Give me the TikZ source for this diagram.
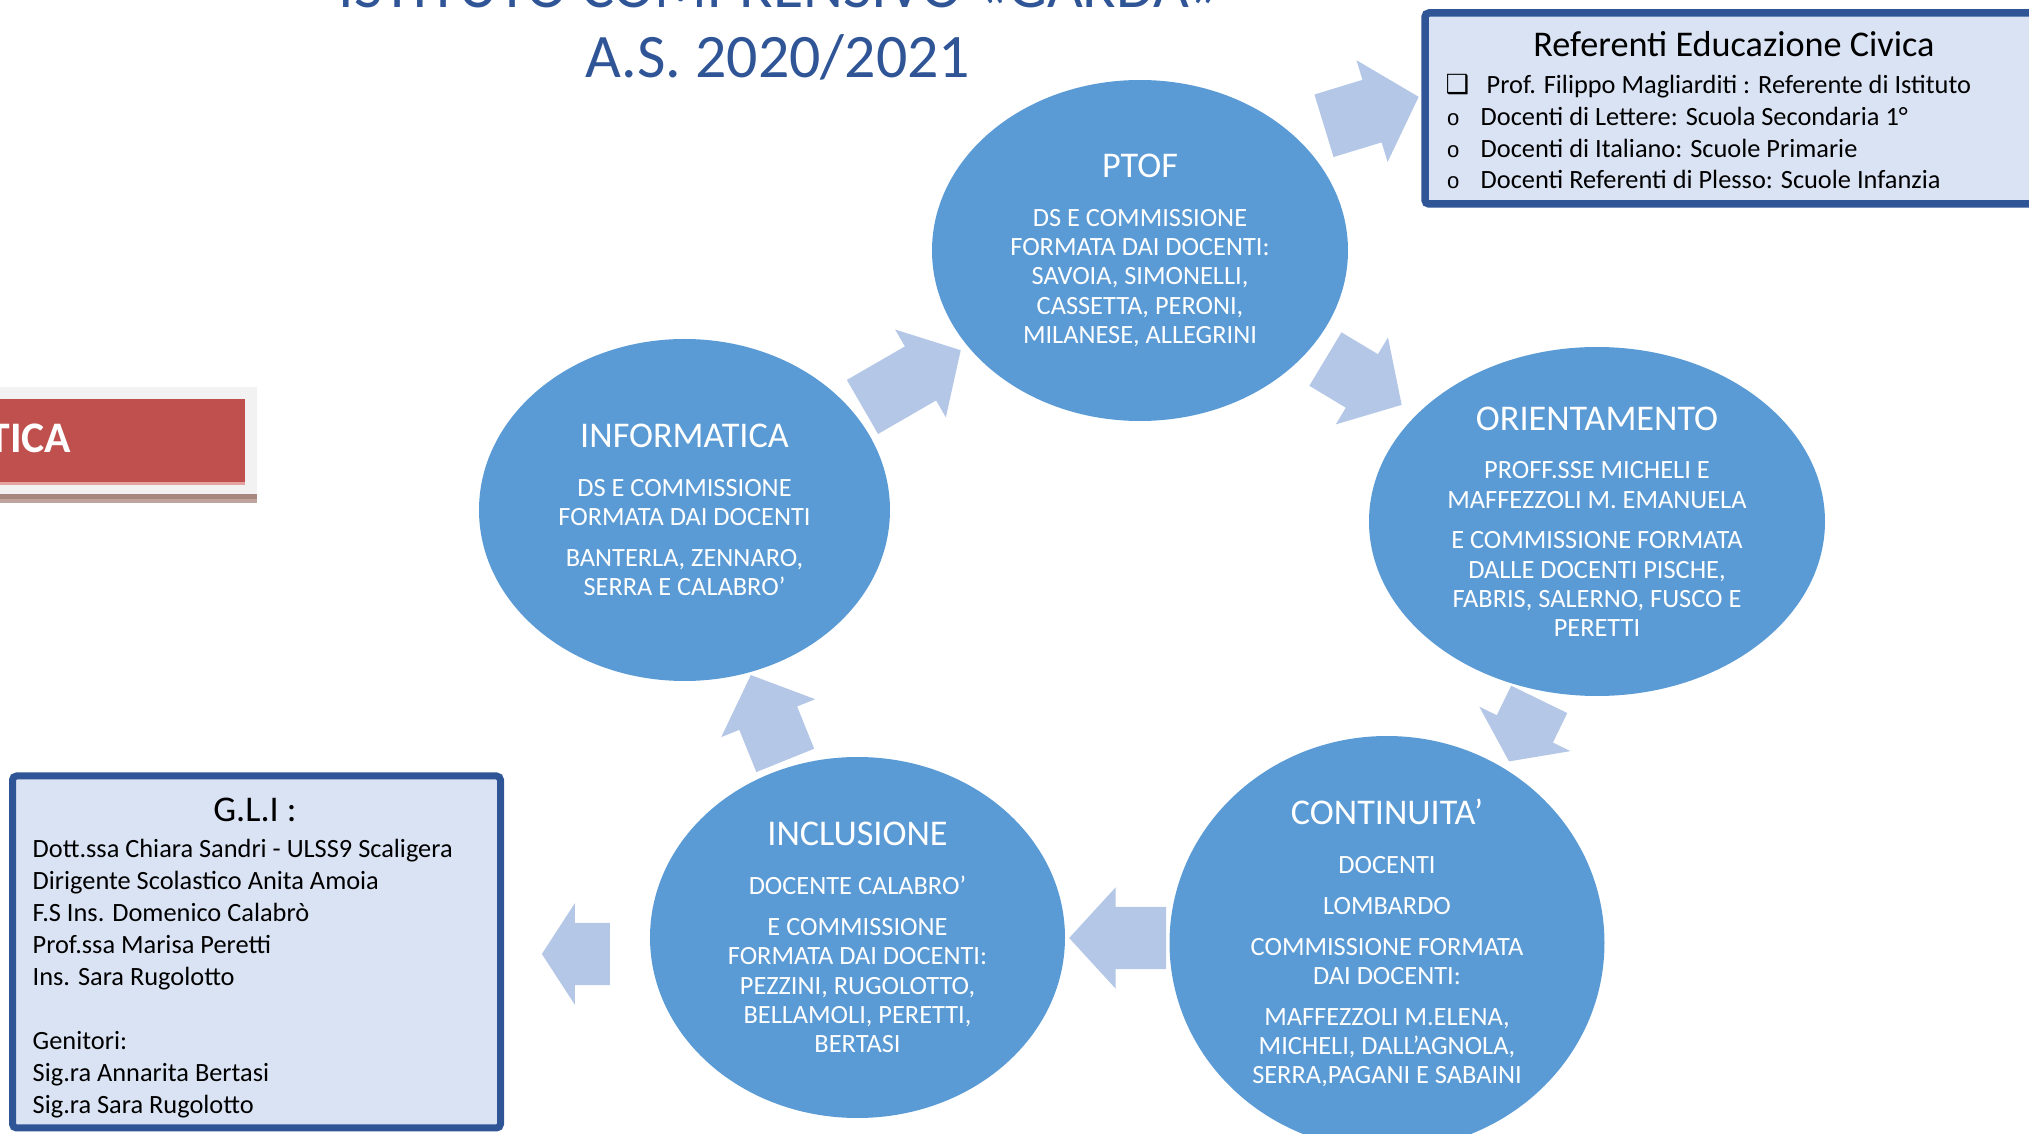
\documentclass[tikz,border=0pt]{standalone}
\usepackage{fontspec}
\setmainfont{Carlito}
\newfontfamily\symfont{DejaVu Sans}
\newfontfamily\bulletfont{Liberation Mono}
\usetikzlibrary{shapes.geometric,shapes.arrows,positioning}
\definecolor{phaseblue}{HTML}{5B9BD5}
\definecolor{arrowblue}{HTML}{B4C7E7}
\definecolor{boxfill}{HTML}{DAE3F3}
\definecolor{boxline}{HTML}{2F5597}
\definecolor{tabred}{HTML}{C0504D}
\definecolor{tabpink}{HTML}{E2A3A1}
\definecolor{panelgray}{HTML}{F2F2F2}
\definecolor{shadowa}{HTML}{A8877F}
\definecolor{shadowb}{HTML}{BFA39D}
\newcommand{\phasename}[1]{{\fontsize{10.3}{12}\selectfont #1}}
\newcommand{\ringmark}{\makebox[3.5mm][l]{\hspace{0.1mm}\bulletfont\fontsize{6.3}{7}\selectfont o}}
\tikzset{
    phase/.style={
        ellipse,
        fill=phaseblue,
        text=white,
        align=center,
        inner sep=0pt,
        font=\fontsize{7.5}{8.3}\selectfont,
    },
    flow/.style={
        single arrow,
        fill=arrowblue,
        inner xsep=0pt,
        inner ysep=3.05mm,
        single arrow head extend=1.95mm,
        single arrow tip angle=95,
    },
    infobox/.style={
        rectangle,
        draw=boxline,
        fill=boxfill,
        line width=0.75mm,
        rounded corners=0.4mm,
    },
    heading/.style={
        text=boxline,
        inner sep=0pt,
        font=\fontsize{17.6}{20}\selectfont,
    },
    boxtitle/.style={
        inner sep=0pt,
        font=\fontsize{10.3}{12}\selectfont,
    },
    boxtext/.style={
        inner sep=0pt,
        align=left,
        font=\fontsize{7.5}{9.1}\selectfont,
    },
}
\begin{document}
\begin{tikzpicture}[x=0.1mm,y=-0.1mm]
    \useasboundingbox (0,0) rectangle (2029,1134);

    \node [heading, anchor=base] (school) at (780,8) {ISTITUTO COMPRENSIVO «GARDA»};
    \node [heading, anchor=base] (year) at (778,78) {A.S. 2020/2021};

    \fill [panelgray] (0,387) rectangle (257,494);
    \fill [tabred] (0,399) rectangle (245,482);
    \fill [tabpink] (0,482) rectangle (245,485);
    \fill [shadowa] (0,494) rectangle (257,499);
    \fill [shadowb] (0,499) rectangle (257,503);
    \node [anchor=base east, inner sep=0pt, text=white, font=\fontsize{12.4}{14}\selectfont\bfseries] (tab) at (72,453) {TICA};

    \node [phase, minimum width=41.6mm, minimum height=34.1mm] (ptof) at (1140,250.5)
        {\phasename{PTOF}\\[5.6pt]DS E COMMISSIONE\\FORMATA DAI DOCENTI:\\SAVOIA, SIMONELLI,\\CASSETTA, PERONI,\\MILANESE, ALLEGRINI};
    \node [phase, minimum width=41.1mm, minimum height=34.2mm] (info) at (684.5,510)
        {\phasename{INFORMATICA}\\[5.6pt]DS E COMMISSIONE\\FORMATA DAI DOCENTI\\[3.35pt]BANTERLA, ZENNARO,\\SERRA E CALABRO’};
    \node [phase, minimum width=45.6mm, minimum height=34.9mm] (orient) at (1597,521.5)
        {\phasename{ORIENTAMENTO}\\[5.6pt]PROFF.SSE MICHELI E\\MAFFEZZOLI M. EMANUELA\\[3.35pt]E COMMISSIONE FORMATA\\DALLE DOCENTI PISCHE,\\FABRIS, SALERNO, FUSCO E\\PERETTI};
    \node [phase, minimum width=43.5mm, minimum height=41.4mm] (cont) at (1387,943)
        {\phasename{CONTINUITA’}\\[5.6pt]DOCENTI\\[3.35pt]LOMBARDO\\[3.35pt]COMMISSIONE FORMATA\\DAI DOCENTI:\\[3.35pt]MAFFEZZOLI M.ELENA,\\MICHELI, DALL’AGNOLA,\\SERRA,PAGANI E SABAINI};
    \node [phase, minimum width=41.5mm, minimum height=36.1mm] (incl) at (857.5,937.5)
        {\phasename{INCLUSIONE}\\[5.6pt]DOCENTE CALABRO’\\[3.35pt]E COMMISSIONE\\FORMATA DAI DOCENTI:\\PEZZINI, RUGOLOTTO,\\BELLAMOLI, PERETTI,\\BERTASI};

    \node [flow, minimum height=9.9mm, inner ysep=3.2mm, single arrow head extend=2.05mm, rotate=17] (toref) at (1357,115.7) {};
    \node [flow, minimum height=11.35mm, rotate=30] (toptof) at (899.2,385.75) {};
    \node [flow, minimum height=8.9mm, rotate=-31] (toorient) at (1351.3,374.6) {};
    \node [flow, minimum height=6.9mm, single arrow tip angle=109, rotate=-116] (tocont) at (1529,720.4) {};
    \node [flow, minimum height=9.7mm, rotate=180] (toincl) at (1132,938) {};
    \node [flow, minimum height=6.8mm, single arrow tip angle=114, rotate=180] (togli) at (586,954) {};
    \node [flow, minimum height=9.2mm, rotate=112] (toinfo) at (773.4,731) {};

    \node [infobox, minimum width=63.5mm, minimum height=19.1mm] (ref) at (1742.5,108.5) {};
    \node [boxtitle, anchor=base] (reftitle) at (1734,57) {Referenti Educazione Civica};
    \node [boxtext, anchor=base west] (reflist) at (1445,189)
        {\makebox[4.1mm][l]{\symfont\bfseries ❑}Prof. Filippo Magliarditi : Referente di Istituto\\
         \ringmark Docenti di Lettere: Scuola Secondaria 1°\\
         \ringmark Docenti di Italiano: Scuole Primarie\\
         \ringmark Docenti Referenti di Plesso: Scuole Infanzia};

    \node [infobox, line width=0.7mm, minimum width=48.8mm, minimum height=35.2mm] (gli) at (256.5,952) {};
    \node [boxtitle, anchor=base] (glititle) at (255,821.6) {G.L.I :};
    \node [boxtext, anchor=base west] (glilist) at (32,1113)
        {Dott.ssa Chiara Sandri - ULSS9 Scaligera\\
         Dirigente Scolastico Anita Amoia\\
         F.S Ins. Domenico Calabrò\\
         Prof.ssa Marisa Peretti\\
         Ins. Sara Rugolotto\\[9.1pt]
         Genitori:\\
         Sig.ra Annarita Bertasi\\
         Sig.ra Sara Rugolotto};
\end{tikzpicture}
\end{document}
